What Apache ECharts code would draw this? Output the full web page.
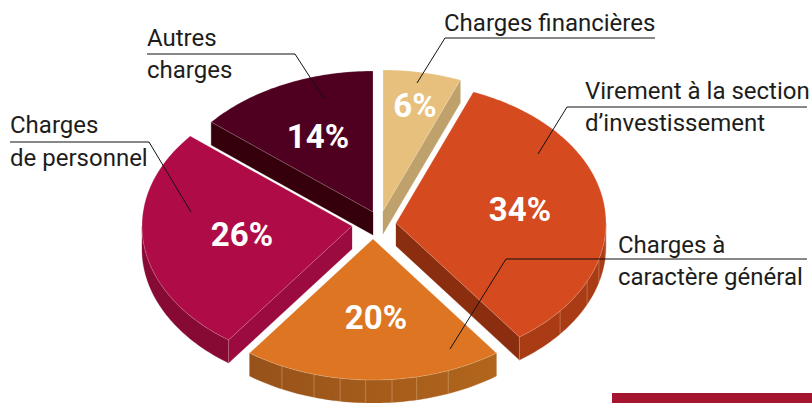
<!DOCTYPE html>
<html>
<head>
<meta charset="utf-8">
<style>html,body{margin:0;padding:0;background:#fff}#c{width:812px;height:403px}</style>
<script src="https://cdn.jsdelivr.net/npm/echarts@6/dist/echarts.min.js"></script>
</head>
<body>
<div id="c"></div>
<script>
// parts du budget, dans le sens horaire depuis midi
const categories = ["Charges financières", "Virement à la section d'investissement", "Charges à caractère général", "Charges de personnel", "Autres charges"];
const values = [6, 34, 20, 26, 14];

// mise en page de la fausse 3D : ellipse, épaisseur, pointe de chaque part éclatée
const RX = 210, RY = 141, DEPTH = 23;
const apex = [[383, 211], [396, 223], [373, 239], [352, 226], [373, 212]];
const labelPos = [[415, 105], [520, 209], [376, 317], [242, 234], [318, 136]];
const topColor = ["#E7C07D", "#D54A1E", "#DD7522", "#AF0C47", "#4F0020"];
const radialColor = ["#BFA26B", "#8B2E10", "#9C5615", "#9C0B3F", "#35000B"];
const arcColor = ["#BFA26B", "#AA3C15", ["#97521A", "#B2661C"], "#870A35", "#35000B"];
// angles (degrés) des facettes visibles sur la tranche
const facets = [[], [95, 105, 114.5, 128.6, 144], [159, 168, 174.8, 182, 189, 196.3, 205.7], [216], []];

const leaders = [
  [[655, 38], [445, 38], [417, 83]],
  [[807, 107], [567, 107], [538, 154]],
  [[807, 259], [506, 259], [450, 349]],
  [[147, 54], [295, 54], [324, 99]],
  [[10, 142], [149, 142], [191, 212]]
];
const labelLines = [
  ["Charges financières", 444, 23],
  ["Virement à la section", 585, 91],
  ["d’investissement", 585, 123],
  ["Charges à", 618, 245],
  ["caractère général", 618, 277],
  ["Autres", 147, 38],
  ["charges", 147, 70],
  ["Charges", 10, 125],
  ["de personnel", 10, 158]
];

const total = values.reduce((a, b) => a + b, 0);
const rad = (d) => d * Math.PI / 180;

function rim(c, deg) {
  return [c[0] + RX * Math.sin(rad(deg)), c[1] - RY * Math.cos(rad(deg))];
}
function arcPts(c, a0, a1) {
  const pts = [];
  const n = Math.max(2, Math.ceil(Math.abs(a1 - a0)));
  for (let i = 0; i <= n; i++) pts.push(rim(c, a0 + (a1 - a0) * i / n));
  return pts;
}
const down = (p) => [p[0], p[1] + DEPTH];
const hair = { stroke: "rgba(255,255,255,0.35)", lineWidth: 0.6 };

function poly(points, fill, z2, withHair) {
  return {
    type: "polygon",
    z2: z2,
    shape: { points: points },
    style: Object.assign({ fill: fill }, withHair ? hair : { stroke: fill, lineWidth: 0.3 })
  };
}

function renderSlice(params, api) {
  const i = params.dataIndex;
  const start = values.slice(0, i).reduce((a, b) => a + b, 0) / total * 360;
  const end = start + api.value(1) / total * 360;
  const c = apex[i];
  const kids = [];

  // tranches radiales : visibles quand leur normale descend vers le lecteur
  if (Math.sin(rad(end)) > 0.01) {
    const p = rim(c, end);
    kids.push(poly([c, p, down(p), down(c)], radialColor[i], 1));
  }
  if (Math.sin(rad(start)) < -0.01) {
    const p = rim(c, start);
    kids.push(poly([c, p, down(p), down(c)], radialColor[i], 1));
  }

  // tranche extérieure, seulement la moitié basse de l'ellipse
  const a0 = Math.max(start, 90), a1 = Math.min(end, 270);
  if (a1 > a0) {
    const top = arcPts(c, a0, a1);
    const col = arcColor[i];
    const x0 = rim(c, a1)[0], x1 = rim(c, a0)[0];
    const fill = Array.isArray(col)
      ? new echarts.graphic.LinearGradient(x0, 0, x1, 0, [{ offset: 0, color: col[0] }, { offset: 1, color: col[1] }], true)
      : col;
    kids.push(poly(top.concat(top.slice().reverse().map(down)), fill, 2));
    facets[i].forEach((f) => {
      const p = rim(c, f);
      kids.push({
        type: "line", z2: 3,
        shape: { x1: p[0], y1: p[1], x2: p[0], y2: p[1] + DEPTH },
        style: { stroke: "rgba(255,235,210,0.35)", lineWidth: 0.8 }
      });
    });
  }

  // dessus de la part
  kids.push(poly([c].concat(arcPts(c, start, end)), topColor[i], 4, true));

  kids.push({
    type: "text", z2: 6,
    style: {
      text: api.value(1) + "%",
      x: labelPos[i][0], y: labelPos[i][1],
      align: "center", verticalAlign: "middle",
      fill: "#fff",
      font: "700 33px Roboto"
    }
  });
  return { type: "group", children: kids };
}

const chart = echarts.init(document.getElementById("c"), null, { renderer: "svg" });
chart.setOption({
  animation: false,
  backgroundColor: "#fff",
  series: [{
    type: "custom",
    coordinateSystem: "none",
    renderItem: renderSlice,
    data: values.map((v, i) => ({ name: categories[i], value: [i, v] })),
    silent: true
  }],
  graphic: {
    elements: [
      { type: "rect", z: 1, shape: { x: 612, y: 393, width: 200, height: 10 }, style: { fill: "#A6152F" } }
    ].concat(leaders.map((pts) => ({
      type: "polyline", z: 20,
      shape: { points: pts },
      style: { stroke: "#111", lineWidth: 1, fill: null }
    }))).concat(labelLines.map((l) => ({
      type: "text", z: 20,
      style: {
        text: l[0], x: l[1], y: l[2],
        verticalAlign: "middle",
        fill: "#1d1d1b",
        font: "400 24px Roboto"
      }
    })))
  }
});
</script>
</body>
</html>
